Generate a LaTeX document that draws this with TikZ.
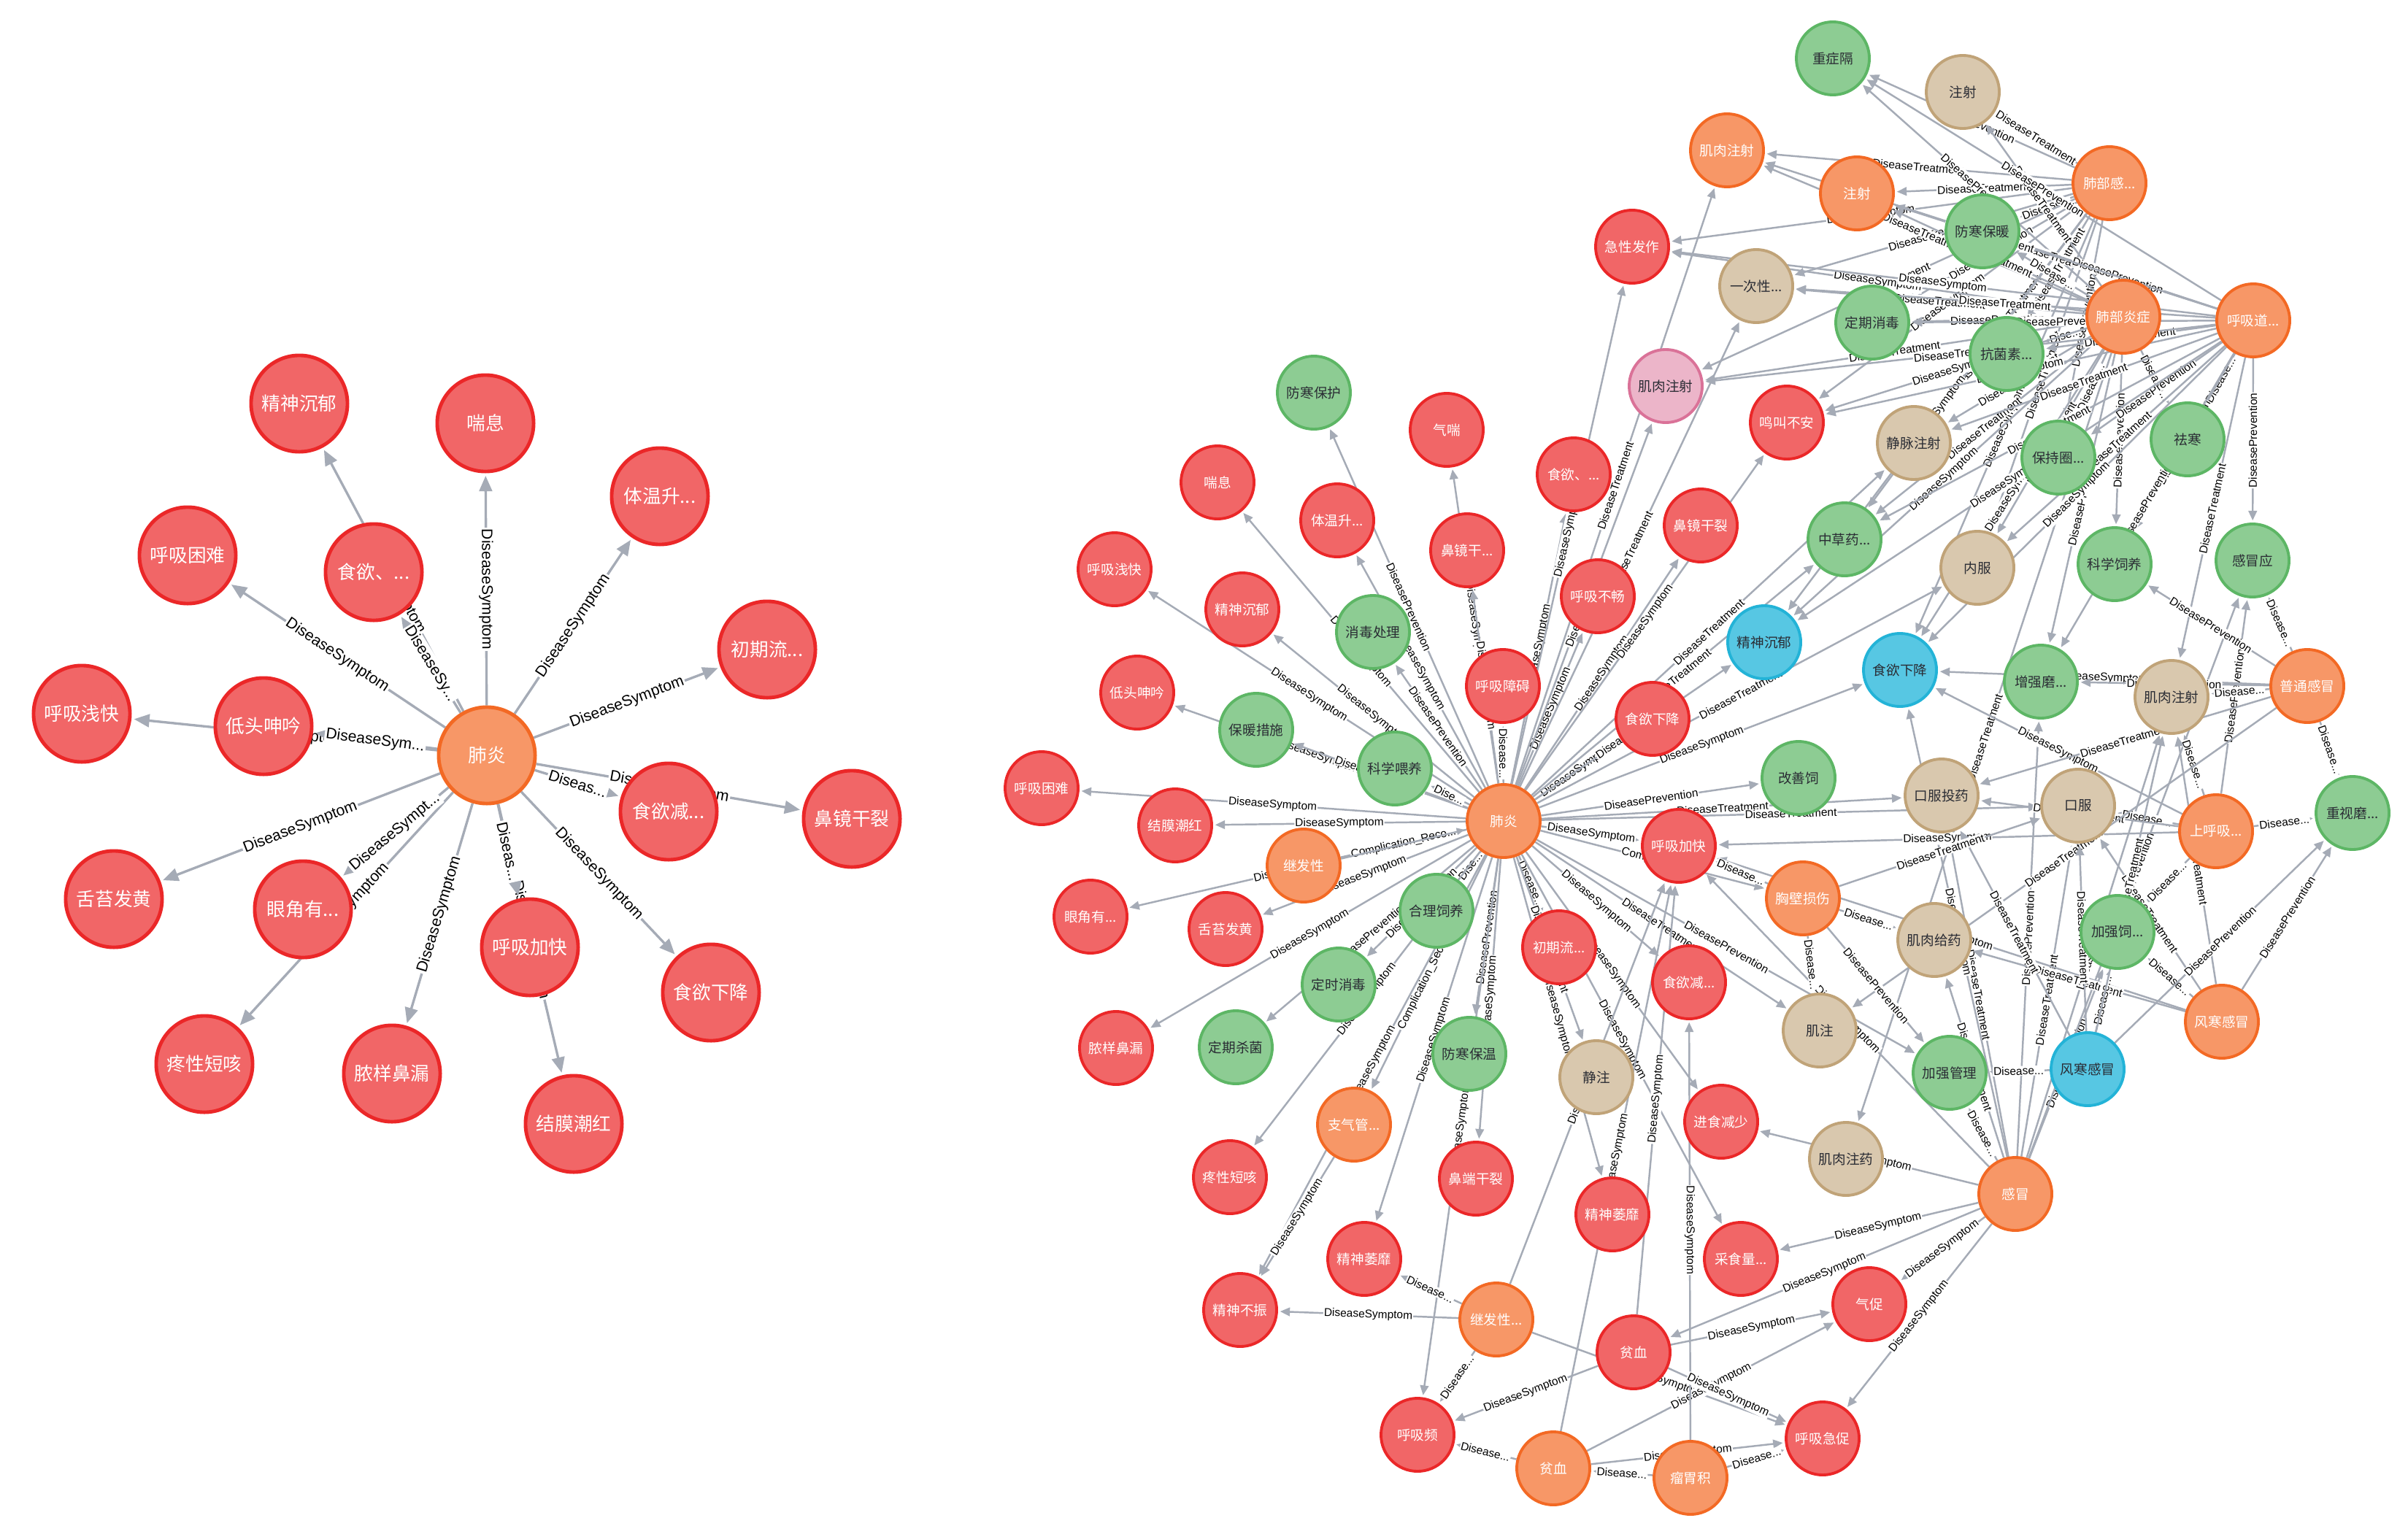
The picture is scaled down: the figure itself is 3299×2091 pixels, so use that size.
\documentclass[tikz,border=0pt]{standalone}
\usepackage{fontspec}
\newfontfamily\cjk{Noto Sans CJK SC}
\newfontfamily\labf{Liberation Sans}
\usetikzlibrary{arrows.meta}
\pgfdeclarelayer{bg}
\pgfdeclarelayer{edges}
\pgfsetlayers{bg,edges,main}
\definecolor{rF}{HTML}{F16667}
\definecolor{rD}{HTML}{EB2728}
\definecolor{oF}{HTML}{F79767}
\definecolor{oD}{HTML}{F36924}
\definecolor{gF}{HTML}{8DCC93}
\definecolor{gD}{HTML}{5DB665}
\definecolor{tF}{HTML}{D9C8AE}
\definecolor{tD}{HTML}{C0A378}
\definecolor{bF}{HTML}{57C7E3}
\definecolor{bD}{HTML}{23B3D7}
\definecolor{pF}{HTML}{ECB5C9}
\definecolor{pD}{HTML}{DA7298}
\definecolor{eC}{HTML}{A5ABB6}
\definecolor{txD}{HTML}{2A2C34}
\newcommand\LbS{DiseaseSymptom}
\newcommand\LbT{DiseaseTreatment}
\newcommand\LbV{DiseasePrevention}
\tikzset{
  nd/.style={circle,inner sep=0pt,minimum size=1cm,line width=1.1pt,font=\cjk\fontsize{5.3}{6}\selectfont},
  bignd/.style={minimum size=1.32cm,line width=1.4pt,font=\cjk\fontsize{7.3}{8}\selectfont},
  sym/.style={nd,fill=rF,draw=rD,text=white},
  dis/.style={nd,fill=oF,draw=oD,text=white},
  prv/.style={nd,fill=gF,draw=gD,text=txD},
  adm/.style={nd,fill=tF,draw=tD,text=txD},
  blu/.style={nd,fill=bF,draw=bD,text=txD},
  pnk/.style={nd,fill=pF,draw=pD,text=txD},
  redge/.style={draw=eC,line width=0.7pt,-{Triangle[length=3.8pt,width=3.3pt]},shorten >=0.8pt},
  rlab/.style={sloped,fill=white,inner sep=0.3pt,font=\labf\fontsize{4.4}{4.6}\selectfont,text=black},
  ledge/.style={draw=eC,line width=0.95pt,-{Triangle[length=6pt,width=5pt]},shorten >=1pt},
  llab/.style={sloped,fill=white,inner sep=0.5pt,font=\labf\fontsize{6}{6.5}\selectfont,text=black},
}
\newcommand\EL[3]{\draw[ledge] (#1) -- node[llab]{#3} (#2);}
\newcommand\ER[3]{%
  \path (#1.center); \pgfgetlastxy{\ax}{\ay}%
  \path (#2.center); \pgfgetlastxy{\bx}{\by}%
  \pgfmathsetmacro\gp{veclen(\bx-\ax,\by-\ay)/0.284528-100}%
  \ifdim\gp pt>130pt\def\elab{#3}%
  \else\ifdim\gp pt>75pt\def\elab{Disease...}%
  \else\ifdim\gp pt>48pt\def\elab{Dise...}%
  \else\ifdim\gp pt>28pt\def\elab{D...}%
  \else\def\elab{}\fi\fi\fi\fi
  \draw[redge] (#1) -- node[rlab]{\elab} (#2);}
\begin{document}
\begin{tikzpicture}[x=0.01cm,y=-0.01cm]
\useasboundingbox (0,0) rectangle (3299,2091);
\begin{pgfonlayer}{bg}
\fill[white] (0,0) rectangle (3299,2091);
\end{pgfonlayer}
% ---------------- left graph ----------------
\node[dis,bignd] (L0) at (667,1035) {肺炎};
\node[sym,bignd] (l1) at (410,553) {精神沉郁};
\node[sym,bignd] (l2) at (665,580) {喘息};
\node[sym,bignd] (l3) at (904,680) {体温升...};
\node[sym,bignd] (l4) at (1051,890) {初期流...};
\node[sym,bignd] (l5) at (1167,1122) {鼻镜干裂};
\node[sym,bignd] (l6) at (916,1112) {食欲减...};
\node[sym,bignd] (l7) at (974,1360) {食欲下降};
\node[sym,bignd] (l8) at (786,1540) {结膜潮红};
\node[sym,bignd] (l9) at (726,1298) {呼吸加快};
\node[sym,bignd] (l10) at (537,1471) {脓样鼻漏};
\node[sym,bignd] (l11) at (280,1458) {疼性短咳};
\node[sym,bignd] (l12) at (415,1246) {眼角有...};
\node[sym,bignd] (l13) at (156,1232) {舌苔发黄};
\node[sym,bignd] (l14) at (112,978) {呼吸浅快};
\node[sym,bignd] (l15) at (361,995) {低头呻吟};
\node[sym,bignd] (l16) at (257,761) {呼吸困难};
\node[sym,bignd] (l17) at (512,784) {食欲、...};
\begin{pgfonlayer}{edges}
\EL{L0}{l1}{\LbS}
\EL{L0}{l2}{\LbS}
\EL{L0}{l3}{\LbS}
\EL{L0}{l4}{\LbS}
\EL{L0}{l5}{\LbS}
\EL{L0}{l6}{Diseas...}
\EL{L0}{l7}{\LbS}
\EL{L0}{l8}{\LbS}
\EL{L0}{l9}{Diseas...}
\EL{L0}{l10}{\LbS}
\EL{L0}{l11}{\LbS}
\EL{L0}{l12}{DiseaseSympt...}
\EL{L0}{l13}{\LbS}
\EL{L0}{l14}{\LbS}
\EL{L0}{l15}{DiseaseSym...}
\EL{L0}{l16}{\LbS}
\EL{L0}{l17}{DiseaseSy...}
\end{pgfonlayer}
% ---------------- right graph ----------------
\node[dis] (P) at (2060,1125) {肺炎};
\node[prv] (fhbh) at (1800,538) {防寒保护};
\node[sym] (qc) at (1982,589) {气喘};
\node[sym] (cx) at (1668,661) {喘息};
\node[sym] (twsR) at (1832,713) {体温升...};
\node[sym] (bjgx) at (2010,754) {鼻镜干...};
\node[sym] (hxqkR) at (1527,780) {呼吸浅快};
\node[sym] (jscyR) at (1702,835) {精神沉郁};
\node[prv] (xdcl) at (1881,866) {消毒处理};
\node[sym] (dtsyR) at (1558,949) {低头呻吟};
\node[prv] (nncs) at (1721,1000) {保暖措施};
\node[sym] (hxza) at (2059,940) {呼吸障碍};
\node[prv] (kxwy) at (1911,1053) {科学喂养};
\node[sym] (hxknR) at (1427,1080) {呼吸困难};
\node[sym] (jmchR) at (1610,1131) {结膜潮红};
\node[dis] (jfx1) at (1786,1186) {继发性};
\node[sym] (jjyR) at (1494,1256) {眼角有...};
\node[sym] (stfhR) at (1679,1273) {舌苔发黄};
\node[prv] (hlsy) at (1968,1248) {合理饲养};
\node[prv] (dsxd) at (1834,1349) {定时消毒};
\node[prv] (dqsj) at (1693,1435) {定期杀菌};
\node[sym] (nybl) at (1529,1436) {脓样鼻漏};
\node[prv] (fhbw) at (2013,1444) {防寒保温};
\node[dis] (zqg) at (1855,1541) {支气管...};
\node[sym] (txdk) at (1685,1613) {疼性短咳};
\node[sym] (bdgl) at (2022,1615) {鼻端干裂};
\node[sym] (jswmL) at (1869,1725) {精神萎靡};
\node[sym] (jsbz) at (1699,1795) {精神不振};
\node[dis] (jfx2) at (2050,1808) {继发性...};
\node[sym] (hxp) at (1942,1966) {呼吸频};
\node[dis] (px1) at (2128,2012) {贫血};
\node[dis] (lwj) at (2316,2025) {瘤胃积};
\node[sym] (hxjc) at (2497,1971) {呼吸急促};
\node[sym] (px2) at (2238,1853) {贫血};
\node[sym] (qcu) at (2561,1787) {气促};
\node[sym] (csl) at (2385,1725) {采食量...};
\node[sym] (jswmR) at (2209,1664) {精神萎靡};
\node[sym] (jsjs) at (2358,1537) {进食减少};
\node[adm] (jrzy) at (2529,1588) {肌肉注药};
\node[dis] (gm) at (2761,1636) {感冒};
\node[adm] (jz1) at (2187,1476) {静注};
\node[adm] (jz2) at (2493,1412) {肌注};
\node[sym] (syjR) at (2314,1346) {食欲减...};
\node[sym] (cqlR) at (2136,1298) {初期流...};
\node[dis] (xbss) at (2470,1231) {胸壁损伤};
\node[adm] (jrgy) at (2650,1288) {肌肉给药};
\node[prv] (jqgl) at (2671,1470) {加强管理};
\node[blu] (fhgmB) at (2860,1465) {风寒感冒};
\node[dis] (fhgmO) at (3044,1400) {风寒感冒};
\node[prv] (jqs) at (2901,1277) {加强饲...};
\node[sym] (hxjkR) at (2300,1159) {呼吸加快};
\node[prv] (gss) at (2464,1066) {改善饲};
\node[adm] (kfty) at (2660,1090) {口服投药};
\node[adm] (kf) at (2847,1104) {口服};
\node[dis] (shx) at (3036,1139) {上呼吸...};
\node[prv] (zsm) at (3223,1114) {重视磨...};
\node[dis] (ptgm) at (3161,940) {普通感冒};
\node[adm] (jrzsT) at (2975,955) {肌肉注射};
\node[prv] (zqm) at (2796,934) {增强磨...};
\node[blu] (syxjB) at (2603,918) {食欲下降};
\node[blu] (jscyB) at (2417,880) {精神沉郁};
\node[sym] (syxjR) at (2264,985) {食欲下降};
\node[sym] (hxbc) at (2189,817) {呼吸不畅};
\node[sym] (bjglR) at (2330,720) {鼻镜干裂};
\node[sym] (syd) at (2156,650) {食欲、...};
\node[prv] (zcy) at (2527,739) {中草药...};
\node[adm] (nf) at (2709,778) {内服};
\node[prv] (kxsy) at (2897,773) {科学饲养};
\node[prv] (gmy) at (3086,768) {感冒应};
\node[prv] (bcq) at (2820,627) {保持圈...};
\node[prv] (qh) at (2997,602) {祛寒};
\node[adm] (jmzs) at (2622,607) {静脉注射};
\node[sym] (mjba) at (2448,579) {鸣叫不安};
\node[pnk] (jrzsP) at (2282,529) {肌肉注射};
\node[prv] (kjs) at (2749,485) {抗菌素...};
\node[prv] (dqxd) at (2565,442) {定期消毒};
\node[adm] (ycx) at (2406,392) {一次性...};
\node[sym] (jxfz) at (2236,338) {急性发作};
\node[prv] (fhbn) at (2716,317) {防寒保暖};
\node[dis] (zsO) at (2544,265) {注射};
\node[dis] (jrzsO) at (2366,206) {肌肉注射};
\node[adm] (zsT) at (2689,126) {注射};
\node[prv] (zzg) at (2511,80) {重症隔};
\node[dis] (fbg) at (2890,251) {肺部感...};
\node[dis] (fbyz) at (2909,434) {肺部炎症};
\node[dis] (hxd) at (3087,439) {呼吸道...};
\begin{pgfonlayer}{edges}
% hub: 肺炎
\ER{P}{fhbh}{\LbV}
\ER{P}{qc}{\LbS}
\ER{P}{bjgx}{\LbS}
\ER{P}{cx}{\LbS}
\ER{P}{twsR}{\LbS}
\ER{P}{xdcl}{\LbV}
\ER{P}{hxqkR}{\LbS}
\ER{P}{jscyR}{\LbS}
\ER{P}{dtsyR}{\LbS}
\ER{P}{nncs}{\LbV}
\ER{P}{hxza}{\LbS}
\ER{P}{kxwy}{\LbV}
\ER{P}{hxknR}{\LbS}
\ER{P}{jmchR}{\LbS}
\ER{jfx1}{P}{Complication\_Reco...}
\ER{P}{jjyR}{\LbS}
\ER{P}{stfhR}{\LbS}
\ER{P}{hlsy}{\LbV}
\ER{P}{dsxd}{\LbV}
\ER{P}{dqsj}{\LbV}
\ER{P}{nybl}{\LbS}
\ER{P}{fhbw}{\LbV}
\ER{P}{zqg}{Complication\_Seconda...}
\ER{P}{txdk}{\LbS}
\ER{P}{bdgl}{\LbS}
\ER{P}{jswmL}{\LbS}
\ER{P}{jsbz}{\LbS}
\ER{P}{hxp}{\LbS}
\ER{P}{cqlR}{\LbS}
\ER{P}{syjR}{\LbS}
\ER{P}{hxjkR}{\LbS}
\ER{P}{xbss}{Complication}
\ER{P}{jz1}{\LbT}
\ER{P}{jswmR}{\LbS}
\ER{P}{jsjs}{\LbS}
\ER{P}{csl}{\LbS}
\ER{P}{jz2}{\LbT}
\ER{P}{jqgl}{\LbV}
\ER{P}{gss}{\LbV}
\ER{P}{kfty}{\LbT}
\ER{P}{kf}{\LbT}
\ER{P}{hxbc}{\LbS}
\ER{P}{bjglR}{\LbS}
\ER{P}{syd}{\LbS}
\ER{P}{syxjR}{\LbS}
\ER{P}{jxfz}{\LbS}
\ER{P}{jrzsP}{\LbT}
\ER{P}{jrzsO}{\LbT}
\ER{P}{ycx}{\LbT}
\ER{P}{zcy}{\LbT}
\ER{P}{mjba}{\LbS}
\ER{P}{jscyB}{\LbS}
\ER{P}{syxjB}{\LbS}
\ER{P}{jmzs}{\LbT}
\ER{P}{nf}{\LbT}
% hub: 肺部感
\ER{fbg}{zsT}{\LbT}
\ER{fbg}{zzg}{\LbV}
\ER{fbg}{jrzsO}{\LbT}
\ER{fbg}{zsO}{\LbT}
\ER{fbg}{fhbn}{\LbV}
\ER{fbg}{ycx}{\LbT}
\ER{fbg}{jxfz}{\LbS}
\ER{fbg}{dqxd}{\LbV}
\ER{fbg}{kjs}{\LbT}
\ER{fbg}{jrzsP}{\LbT}
\ER{fbg}{jmzs}{\LbT}
\ER{fbg}{bcq}{\LbV}
\ER{fbg}{zcy}{\LbT}
\ER{fbg}{syxjB}{\LbS}
\ER{fbg}{jscyB}{\LbS}
\ER{fbg}{nf}{\LbT}
\ER{fbg}{mjba}{\LbS}
% hub: 肺部炎症
\ER{fbyz}{zzg}{\LbV}
\ER{fbyz}{zsT}{\LbT}
\ER{fbyz}{jrzsO}{\LbT}
\ER{fbyz}{zsO}{\LbT}
\ER{fbyz}{fhbn}{\LbV}
\ER{fbyz}{ycx}{\LbT}
\ER{fbyz}{jxfz}{\LbS}
\ER{fbyz}{dqxd}{\LbV}
\ER{fbyz}{kjs}{\LbT}
\ER{fbyz}{jrzsP}{\LbT}
\ER{fbyz}{mjba}{\LbS}
\ER{fbyz}{jmzs}{\LbT}
\ER{fbyz}{bcq}{\LbV}
\ER{fbyz}{qh}{\LbV}
\ER{fbyz}{zcy}{\LbT}
\ER{fbyz}{kxsy}{\LbV}
\ER{fbyz}{nf}{\LbT}
\ER{fbyz}{syxjB}{\LbS}
\ER{fbyz}{jscyB}{\LbS}
\ER{fbyz}{zqm}{\LbV}
\ER{fbyz}{jrzy}{\LbT}
% hub: 呼吸道
\ER{hxd}{zzg}{\LbV}
\ER{hxd}{zsO}{\LbT}
\ER{hxd}{fhbn}{\LbV}
\ER{hxd}{ycx}{\LbT}
\ER{hxd}{jxfz}{\LbS}
\ER{hxd}{dqxd}{\LbV}
\ER{hxd}{kjs}{\LbT}
\ER{hxd}{mjba}{\LbS}
\ER{hxd}{jmzs}{\LbT}
\ER{hxd}{bcq}{\LbV}
\ER{hxd}{qh}{\LbV}
\ER{hxd}{zcy}{\LbT}
\ER{hxd}{nf}{\LbT}
\ER{hxd}{kxsy}{\LbV}
\ER{hxd}{gmy}{\LbV}
\ER{hxd}{zqm}{\LbV}
\ER{hxd}{jrzsT}{\LbT}
\ER{hxd}{syxjB}{\LbS}
\ER{hxd}{jscyB}{\LbS}
\ER{hxd}{jrzsP}{\LbT}
\ER{hxd}{jrzsO}{\LbT}
% hub: 感冒
\ER{gm}{kfty}{\LbT}
\ER{gm}{kf}{\LbT}
\ER{gm}{jrzsT}{\LbT}
\ER{gm}{zqm}{\LbV}
\ER{gm}{jqs}{\LbV}
\ER{gm}{jrgy}{\LbT}
\ER{gm}{jqgl}{\LbV}
\ER{gm}{syxjB}{\LbS}
\ER{gm}{hxjkR}{\LbS}
\ER{gm}{jsjs}{\LbS}
\ER{gm}{csl}{\LbS}
\ER{gm}{qcu}{\LbS}
\ER{gm}{hxjc}{\LbS}
\ER{gm}{px2}{\LbS}
\ER{gm}{gmy}{\LbV}
% 上呼吸
\ER{shx}{zsm}{\LbV}
\ER{shx}{kf}{\LbT}
\ER{shx}{jqs}{\LbV}
\ER{shx}{hxjkR}{\LbS}
\ER{shx}{jrzsT}{\LbT}
\ER{shx}{syxjB}{\LbS}
\ER{shx}{gmy}{\LbV}
\ER{shx}{kfty}{\LbT}
% 普通感冒
\ER{ptgm}{zsm}{\LbV}
\ER{ptgm}{jrzsT}{\LbT}
\ER{ptgm}{kfty}{\LbT}
\ER{ptgm}{jz2}{\LbT}
\ER{ptgm}{syxjB}{\LbS}
\ER{ptgm}{zqm}{\LbV}
\ER{ptgm}{gmy}{\LbV}
\ER{ptgm}{kxsy}{\LbV}
% 风寒感冒
\ER{fhgmO}{zsm}{\LbV}
\ER{fhgmO}{jqs}{\LbV}
\ER{fhgmO}{kf}{\LbT}
\ER{fhgmO}{jrzsT}{\LbT}
\ER{fhgmO}{hxjkR}{\LbS}
\ER{fhgmO}{jrgy}{\LbT}
\ER{fhgmB}{zsm}{\LbV}
\ER{fhgmB}{jqs}{\LbV}
\ER{fhgmB}{kf}{\LbT}
\ER{fhgmB}{jrzsT}{\LbT}
\ER{fhgmB}{kfty}{\LbT}
\ER{fhgmB}{jqgl}{\LbV}
% 胸壁损伤
\ER{xbss}{hxjkR}{\LbS}
\ER{xbss}{jrgy}{\LbT}
\ER{xbss}{kf}{\LbT}
\ER{xbss}{jqgl}{\LbV}
\ER{xbss}{jz2}{\LbT}
% lower diseases
\ER{jfx2}{jswmL}{\LbS}
\ER{jfx2}{jsbz}{\LbS}
\ER{jfx2}{hxp}{\LbS}
\ER{jfx2}{hxjkR}{\LbS}
\ER{jfx2}{hxjc}{\LbS}
\ER{px1}{hxp}{\LbS}
\ER{px1}{qcu}{\LbS}
\ER{px1}{hxjkR}{\LbS}
\ER{px1}{hxjc}{\LbS}
\ER{lwj}{hxjc}{\LbS}
\ER{lwj}{px1}{\LbS}
\ER{lwj}{syjR}{\LbS}
\ER{px2}{hxjkR}{\LbS}
\ER{px2}{qcu}{\LbS}
\ER{px2}{hxjc}{\LbS}
\ER{px2}{hxp}{\LbS}
\ER{zqg}{jsbz}{\LbS}
\end{pgfonlayer}
\end{tikzpicture}
\end{document}
